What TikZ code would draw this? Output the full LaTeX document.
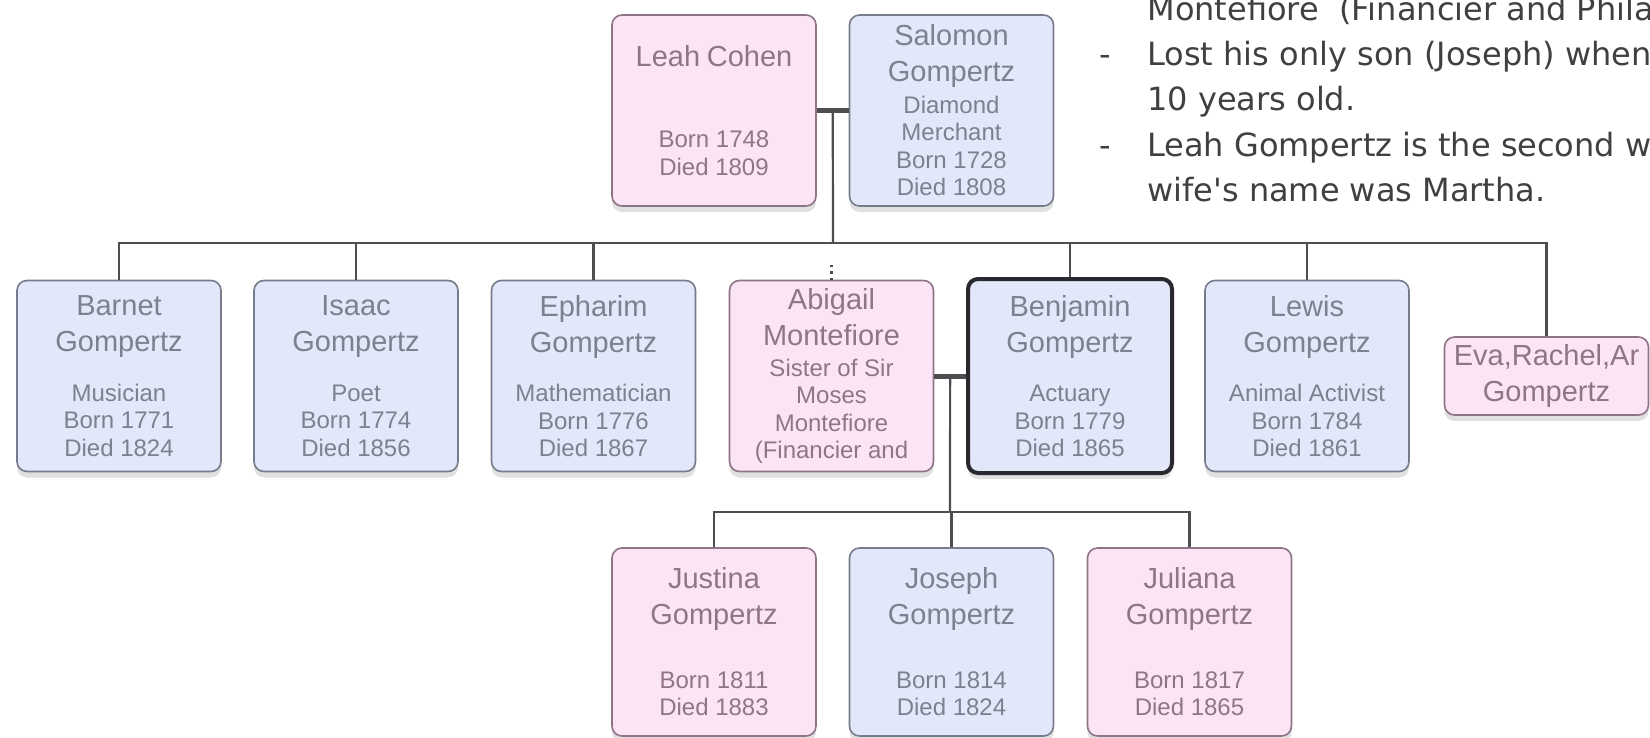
\documentclass[tikz,border=0pt]{standalone}
\usepackage{fontspec}
\setmainfont{Liberation Sans}
\newfontfamily\notefont{DejaVu Sans}
\usepackage{tikz}
\usetikzlibrary{calc}
\usetikzlibrary{shadows}
\setlength{\parindent}{0pt}

\definecolor{pinkfill}{RGB}{252,228,247}
\definecolor{bluefill}{RGB}{226,232,250}
\definecolor{pinkline}{RGB}{142,116,134}
\definecolor{blueline}{RGB}{118,124,140}
\definecolor{pinktext}{RGB}{146,116,136}
\definecolor{bluetext}{RGB}{125,128,142}
\definecolor{benline}{RGB}{40,40,46}
\definecolor{treeline}{RGB}{78,78,82}
\definecolor{notetext}{RGB}{64,64,64}

\newcommand{\pcard}[3][0pt]{{\fontsize{14.5}{18}\selectfont #2\par}\vspace{#1}{\fontsize{12}{13.75}\selectfont #3\par}}

\begin{document}
\begin{tikzpicture}[x=0.5pt, y=-0.5pt,
  person/.style={draw, rounded corners=5pt, line width=0.8pt, minimum width=102pt, minimum height=95.5pt, text width=96pt, align=center, inner sep=0pt, drop shadow={shadow xshift=0pt, shadow yshift=-3pt, opacity=.12, fill=black}},
  female/.style={person, fill=pinkfill, draw=pinkline, text=pinktext},
  male/.style={person, fill=bluefill, draw=blueline, text=bluetext},
  tree/.style={draw=treeline, line width=1.1pt},
  couple/.style={draw=treeline, line width=2.5pt},
  note/.style={font=\notefont\fontsize{16}{19}\selectfont, text=notetext, inner sep=0pt}]
\clip (0,0) rectangle (1650,738);

\node[female] (leah) at (714,110.5) {\pcard[27pt]{Leah Cohen}{Born 1748\\Died 1809}};
\node[male] (salomon) at (951.5,110.5) {\pcard[2pt]{Salomon\\Gompertz}{Diamond\\Merchant\\Born 1728\\Died 1808}};

\node[male] (barnet) at (119,376) {\pcard[11pt]{Barnet\\Gompertz}{Musician\\Born 1771\\Died 1824}};
\node[male] (isaac) at (356,376) {\pcard[11pt]{Isaac\\Gompertz}{Poet\\Born 1774\\Died 1856}};
\node[male] (epharim) at (593.5,376) {\pcard[11pt]{Epharim\\Gompertz}{Mathematician\\Born 1776\\Died 1867}};
\node[female] (abigail) at (831.5,376) {\pcard[1.5pt]{Abigail\\Montefiore}{Sister of Sir\\Moses\\Montefiore\\(Financier and}};
\node[male, draw=benline, line width=2pt, minimum height=97pt] (benjamin) at (1070,376) {\pcard[11pt]{Benjamin\\Gompertz}{Actuary\\Born 1779\\Died 1865}};
\node[male] (lewis) at (1307,376) {\pcard[11pt]{Lewis\\Gompertz}{Animal Activist\\Born 1784\\Died 1861}};
\node[female, minimum height=39pt] (eva) at (1546.5,376) {\pcard{Eva,Rachel,Ar\\Gompertz}{}};

\node[female, minimum height=94pt] (justina) at (714,642) {\pcard[18pt]{Justina\\Gompertz}{Born 1811\\Died 1883}};
\node[male, minimum height=94pt] (joseph) at (951.5,642) {\pcard[18pt]{Joseph\\Gompertz}{Born 1814\\Died 1824}};
\node[female, minimum height=94pt] (juliana) at (1189.5,642) {\pcard[18pt]{Juliana\\Gompertz}{Born 1817\\Died 1865}};

\coordinate (bus) at (833,243);
\draw[couple] (leah.east) -- (salomon.west);
\draw[tree] ($(leah.east)!.5!(salomon.west)$) -- (bus);
\draw[tree] (barnet.north) -- (barnet.north |- bus) -- (eva.north |- bus) -- (eva.north);
\foreach \kid in {isaac, epharim, benjamin, lewis}
  \draw[tree] (\kid.north) -- (\kid.north |- bus);
\draw[tree, dotted] (abigail.north) -- ++(0,-17);

\coordinate (bus2) at (950,512);
\draw[couple] (abigail.east) -- (benjamin.west);
\draw[tree] ($(abigail.east)!.5!(benjamin.west)$) -- (bus2);
\draw[tree] (justina.north) -- (justina.north |- bus2) -- (juliana.north |- bus2) -- (juliana.north);
\draw[tree] (joseph.north) -- (joseph.north |- bus2);

\node[note, anchor=base west] (n1) at (1147,21) {Montefiore\ \ (Financier and Phila};
\node[note, anchor=base] (d1) at (1105,66) {-};
\node[note, anchor=base west] (n2) at (1147,66) {Lost his only son (Joseph) when};
\node[note, anchor=base west] (n3) at (1147,111) {10 years old.};
\node[note, anchor=base] (d2) at (1105,156) {-};
\node[note, anchor=base west] (n4) at (1147,156) {Leah Gompertz is the second w};
\node[note, anchor=base west] (n5) at (1147,201) {wife's name was Martha.};
\end{tikzpicture}
\end{document}
